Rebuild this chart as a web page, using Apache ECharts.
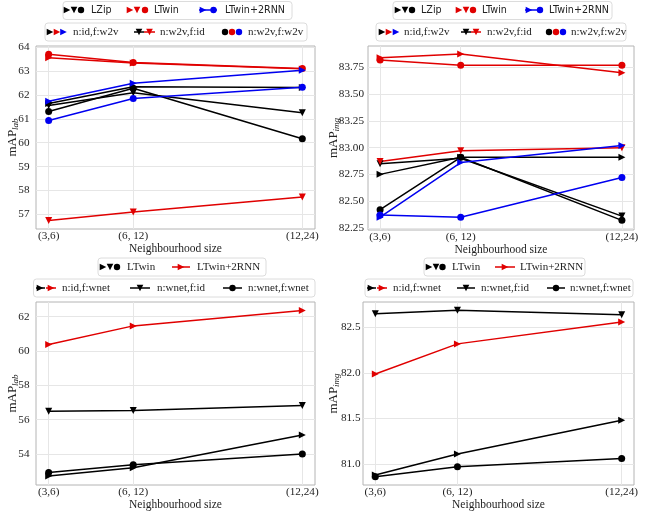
<!DOCTYPE html>
<html><head><meta charset="utf-8">
<script src="https://cdn.jsdelivr.net/npm/echarts@6/dist/echarts.min.js"></script>
<style>html,body{margin:0;padding:0;background:#fff}#c{width:655px;height:513px}</style>
</head><body><div id="c"></div>
<script>
// ---------- data ----------
const xValues = [3, 6, 12];
const xTickLabels = ['(3,6)', '(6, 12)', '(12,24)'];

// top-left: mAP_lab, w2v
const lzipIdW2vLab   = [61.65, 62.35, 62.32];
const lzipW2vIdLab   = [61.56, 62.10, 61.26];
const lzipW2vW2vLab  = [61.31, 62.29, 60.17];
const ltwinIdW2vLab  = [63.57, 63.35, 63.10];
const ltwinW2vIdLab  = [56.74, 57.09, 57.72];
const ltwinW2vW2vLab = [63.71, 63.37, 63.12];
const rnnIdW2vLab    = [61.74, 62.50, 63.04];
const rnnW2vW2vLab   = [60.93, 61.86, 62.33];

// top-right: mAP_img, w2v
const lzipIdW2vImg   = [82.75, 82.91, 82.91];
const lzipW2vIdImg   = [82.85, 82.90, 82.36];
const lzipW2vW2vImg  = [82.42, 82.91, 82.32];
const ltwinIdW2vImg  = [83.84, 83.875, 83.70];
const ltwinW2vIdImg  = [82.87, 82.97, 83.00];
const ltwinW2vW2vImg = [83.82, 83.77, 83.77];
const rnnIdW2vImg    = [82.35, 82.86, 83.02];
const rnnW2vW2vImg   = [82.37, 82.35, 82.72];

// bottom-left: mAP_lab, wnet
const ltwinIdWnetLab   = [52.72, 53.20, 55.11];
const ltwinWnetIdLab   = [56.49, 56.54, 56.83];
const ltwinWnetWnetLab = [52.93, 53.38, 54.00];
const rnnIdWnetLab     = [60.38, 61.46, 62.36];

// bottom-right: mAP_img, wnet
const ltwinIdWnetImg   = [80.88, 81.11, 81.48];
const ltwinWnetIdImg   = [82.65, 82.69, 82.64];
const ltwinWnetWnetImg = [80.86, 80.97, 81.06];
const rnnIdWnetImg     = [81.99, 82.32, 82.56];

// tick labels
const yTicksTL = [57, 58, 59, 60, 61, 62, 63, 64];
const yTicksTR = [82.25, 82.5, 82.75, 83, 83.25, 83.5, 83.75];
const yTicksBL = [54, 56, 58, 60, 62];
const yTicksBR = [81, 81.5, 82, 82.5];

// ---------- style ----------
const FONT = 'Liberation Serif';
const SANS = 'DejaVu Sans';
const K = '#000000', R = '#e00000', B = '#0000f0';
const RIGHT = 'path://M0,0L10,5L0,10Z';
const DOWN = 'path://M0,0L10,0L5,10Z';
const CIRC = 'circle';

const grids = [
  {left: 36, top: 46, width: 279, height: 183},
  {left: 368, top: 46, width: 266, height: 184},
  {left: 36, top: 302, width: 279, height: 183},
  {left: 363, top: 302, width: 271, height: 183}
].map(g => Object.assign(g, {show: true, borderColor: '#b4b4b4', borderWidth: 1, backgroundColor: 'transparent'}));

function xAxis(i) {
  return {
    type: 'value', gridIndex: i, min: 2.55, max: 12.45,
    name: 'Neighbourhood size', nameLocation: 'middle', nameGap: 11,
    nameTextStyle: {fontFamily: FONT, fontSize: 11.5, color: '#222'},
    axisLine: {show: false}, axisTick: {show: false, customValues: xValues},
    axisLabel: {customValues: xValues, margin: 2, fontFamily: FONT, fontSize: 11.2, color: '#222',
      formatter: v => xTickLabels[xValues.indexOf(v)]},
    splitLine: {show: true, lineStyle: {color: '#e6e6e6', width: 1}}
  };
}
function yAxis(i, min, max, ticks, dec, margin) {
  return {
    type: 'value', gridIndex: i, min: min, max: max,
    axisLine: {show: false}, axisTick: {show: false, customValues: ticks},
    axisLabel: {customValues: ticks, margin: margin, fontFamily: FONT, fontSize: 11.2, color: '#222',
      formatter: v => v.toFixed(dec)},
    splitLine: {show: true, lineStyle: {color: '#e6e6e6', width: 1}}
  };
}

function line(g, arr, sym, color, size) {
  return {
    type: 'line', xAxisIndex: g, yAxisIndex: g,
    data: xValues.map((x, i) => [x, arr[i]]),
    symbol: sym, symbolSize: size || 7, showSymbol: true,
    lineStyle: {color: color, width: 1.5}, itemStyle: {color: color},
    emphasis: {disabled: true}
  };
}

const series = [
  line(0, lzipIdW2vLab, RIGHT, K), line(0, lzipW2vIdLab, DOWN, K), line(0, lzipW2vW2vLab, CIRC, K),
  line(0, ltwinIdW2vLab, RIGHT, R), line(0, ltwinW2vIdLab, DOWN, R), line(0, ltwinW2vW2vLab, CIRC, R),
  line(0, rnnIdW2vLab, RIGHT, B), line(0, rnnW2vW2vLab, CIRC, B),
  line(1, lzipIdW2vImg, RIGHT, K), line(1, lzipW2vIdImg, DOWN, K), line(1, lzipW2vW2vImg, CIRC, K),
  line(1, ltwinIdW2vImg, RIGHT, R), line(1, ltwinW2vIdImg, DOWN, R), line(1, ltwinW2vW2vImg, CIRC, R),
  line(1, rnnIdW2vImg, RIGHT, B), line(1, rnnW2vW2vImg, CIRC, B),
  line(2, ltwinIdWnetLab, RIGHT, K), line(2, ltwinWnetIdLab, DOWN, K), line(2, ltwinWnetWnetLab, CIRC, K),
  line(2, rnnIdWnetLab, RIGHT, R),
  line(3, ltwinIdWnetImg, RIGHT, K), line(3, ltwinWnetIdImg, DOWN, K), line(3, ltwinWnetWnetImg, CIRC, K),
  line(3, rnnIdWnetImg, RIGHT, R)
];

// ---------- legend graphics ----------
const G = [];
function box(x1, y1, x2, y2) {
  G.push({type: 'rect', shape: {x: x1, y: y1, width: x2 - x1, height: y2 - y1, r: 3},
    style: {fill: '#fff', stroke: '#dcdcdc', lineWidth: 1}, z: 10});
}
function mk(t, cx, cy, color) {
  const s = 3.3;
  if (t === 'o') G.push({type: 'circle', shape: {cx: cx, cy: cy, r: 3.2}, style: {fill: color}, z: 12});
  else if (t === '>') G.push({type: 'polygon', shape: {points: [[cx - s, cy - s], [cx + s, cy], [cx - s, cy + s]]}, style: {fill: color}, z: 12});
  else G.push({type: 'polygon', shape: {points: [[cx - s, cy - s], [cx + s, cy - s], [cx, cy + s]]}, style: {fill: color}, z: 12});
}
function ln(x1, x2, cy, color) {
  G.push({type: 'line', shape: {x1: x1, y1: cy, x2: x2, y2: cy}, style: {stroke: color, lineWidth: 1.5}, z: 11});
}
function tx(s, x, cy, sans) {
  G.push({type: 'text', x: x, y: cy, style: {text: s, fontFamily: sans ? SANS : FONT, fontSize: sans ? 9.6 : 11,
    fill: '#222', verticalAlign: 'middle', align: 'left'}, z: 12});
}
// rotated y-axis titles: mAP with italic subscript
function ytitle(sub, cx, cy) {
  G.push({type: 'text', x: cx, y: cy, rotation: Math.PI / 2, z: 12,
    style: {text: '{m|mAP}{s|' + sub + '}', align: 'center', verticalAlign: 'middle', fill: '#222',
      rich: {
        m: {fontFamily: FONT, fontSize: 13, lineHeight: 14, verticalAlign: 'top', fill: '#222'},
        s: {fontFamily: FONT, fontSize: 9, fontStyle: 'italic', lineHeight: 19, verticalAlign: 'middle', fill: '#222'}
      }}});
}
ytitle('lab', 16, 137.5); ytitle('img', 337, 138); ytitle('lab', 16, 393.5); ytitle('img', 337, 393.5);

// top-left legends
box(63, 1.5, 292, 19.5); box(45, 23, 307, 41);
[['>', 67], ['v', 74], ['o', 81]].forEach(a => mk(a[0], a[1], 10, K)); tx('LZip', 91, 10, true);
[['>', 130], ['v', 137], ['o', 145]].forEach(a => mk(a[0], a[1], 10, R)); tx('LTwin', 154, 10, true);
ln(199, 217, 10, B); mk('>', 203, 10, B); mk('o', 213.5, 10, B); tx('LTwin+2RNN', 225, 10, true);
mk('>', 50, 32, K); mk('>', 57, 32, R); mk('>', 63.5, 32, B); tx('n:id,f:w2v', 73, 32);
ln(134, 144, 32, K); mk('v', 139, 32, K); ln(144, 155, 32, R); mk('v', 149.5, 32, R); tx('n:w2v,f:id', 160, 32);
mk('o', 225, 32, K); mk('o', 232, 32, R); mk('o', 239, 32, B); tx('n:w2v,f:w2v', 248, 32);

// top-right legends
box(393, 1.5, 612, 19.5); box(376, 23, 626, 41);
[['>', 398], ['v', 405], ['o', 412]].forEach(a => mk(a[0], a[1], 10, K)); tx('LZip', 421, 10, true);
[['>', 459], ['v', 466], ['o', 473]].forEach(a => mk(a[0], a[1], 10, R)); tx('LTwin', 482, 10, true);
ln(525, 543, 10, B); mk('>', 529, 10, B); mk('o', 540, 10, B); tx('LTwin+2RNN', 549, 10, true);
mk('>', 382, 32, K); mk('>', 389, 32, R); mk('>', 396, 32, B); tx('n:id,f:w2v', 404, 32);
ln(461, 471, 32, K); mk('v', 466, 32, K); ln(471, 481, 32, R); mk('v', 476, 32, R); tx('n:w2v,f:id', 487, 32);
mk('o', 549, 32, K); mk('o', 556, 32, R); mk('o', 563, 32, B); tx('n:w2v,f:w2v', 571, 32);

// bottom-left legends
box(98, 258, 266, 276); box(33.5, 279, 315, 297);
[['>', 103], ['v', 110], ['o', 117]].forEach(a => mk(a[0], a[1], 267, K)); tx('LTwin', 127, 267);
ln(172, 190, 267, R); mk('>', 181, 267, R); tx('LTwin+2RNN', 197, 267);
ln(36, 45, 288, K); mk('>', 40, 288, K); ln(46, 56, 288, R); mk('>', 51, 288, R); tx('n:id,f:wnet', 62, 288);
ln(130, 150, 288, K); mk('v', 140, 288, K); tx('n:wnet,f:id', 157, 288);
ln(223, 242, 288, K); mk('o', 232.5, 288, K); tx('n:wnet,f:wnet', 248, 288);

// bottom-right legends
box(424, 258, 585, 276); box(365, 279, 633, 297);
[['>', 429], ['v', 436], ['o', 442.5]].forEach(a => mk(a[0], a[1], 267, K)); tx('LTwin', 452, 267);
ln(495, 515, 267, R); mk('>', 505, 267, R); tx('LTwin+2RNN', 520, 267);
ln(367, 376, 288, K); mk('>', 371, 288, K); ln(377, 387, 288, R); mk('>', 382, 288, R); tx('n:id,f:wnet', 393, 288);
ln(457, 475, 288, K); mk('v', 466, 288, K); tx('n:wnet,f:id', 481, 288);
ln(547, 565, 288, K); mk('o', 556, 288, K); tx('n:wnet,f:wnet', 570, 288);

const chart = echarts.init(document.getElementById('c'), null, {renderer: 'canvas'});
chart.setOption({
  animation: false,
  backgroundColor: '#fff',
  grid: grids,
  xAxis: [0, 1, 2, 3].map(xAxis),
  yAxis: [
    yAxis(0, 56.38, 64.06, yTicksTL, 0, 6.5),
    yAxis(1, 82.23, 83.95, yTicksTR, 2, 4),
    yAxis(2, 52.2, 62.85, yTicksBL, 0, 6.5),
    yAxis(3, 80.77, 82.78, yTicksBR, 1, 2.5)
  ],
  series: series,
  graphic: G
});
</script>
</body></html>
